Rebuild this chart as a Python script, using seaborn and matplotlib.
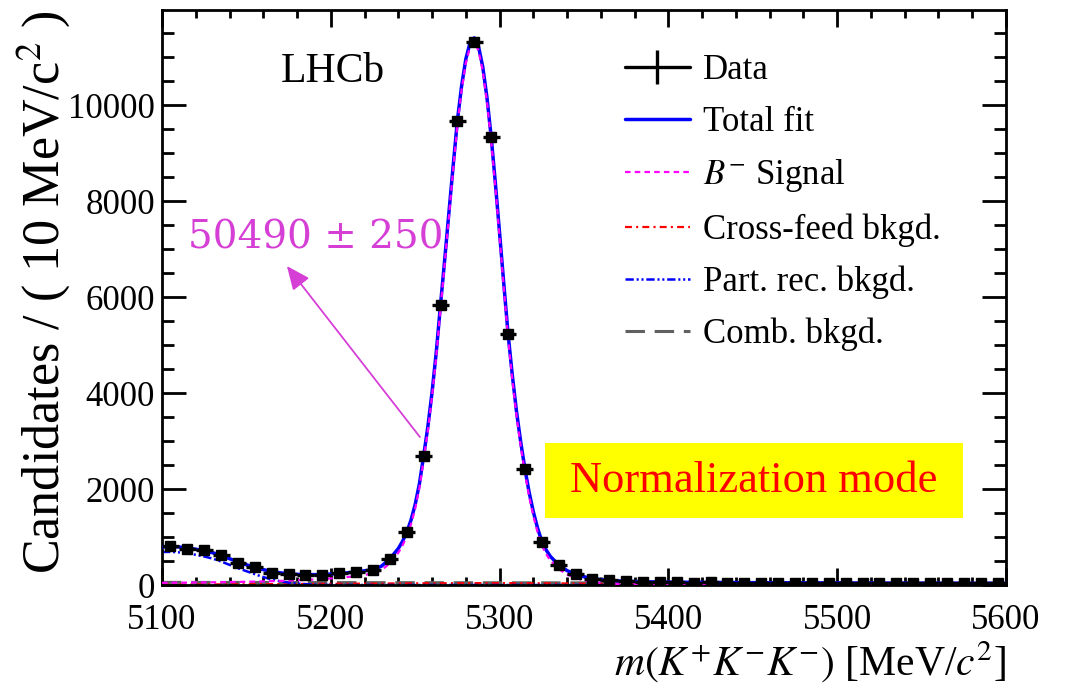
import numpy as np
import matplotlib
matplotlib.use("Agg")
import matplotlib.pyplot as plt
import seaborn as sns
from matplotlib.lines import Line2D
from matplotlib.patches import Rectangle
from matplotlib.ticker import MultipleLocator

# ---------------- data ----------------
bin_centers = np.arange(5105, 5600, 10)
counts = [805, 742, 722, 627, 466, 383, 257, 237, 215, 215,
          245, 276, 313, 550, 1105, 2680, 5830, 9670, 11310, 9330,
          5230, 2410, 905, 410, 228, 135, 100, 82, 70, 62,
          58, 52, 55, 48, 50, 46, 47, 44, 45, 42,
          40, 43, 38, 41, 37, 39, 35, 37, 34, 36]

# sample positions of the fit curves
fit_x = np.concatenate([np.arange(5100, 5241, 5), np.arange(5242.5, 5331, 2.5),
                        np.arange(5335, 5401, 5), np.arange(5410, 5601, 10)])

total_fit = [795, 800, 792, 772, 746, 714, 672, 614, 548, 482,
             422, 368, 320, 282, 254, 234, 222, 216, 216, 220,
             228, 240, 255, 274, 296, 322, 392, 545, 760,
             910, 1100, 1350, 1680, 2110, 2690, 3300, 4020, 4860, 5840,
             6790, 7770, 8740, 9680, 10400, 10960, 11300, 11400, 11220, 10800,
             10160, 9340, 8370, 7330, 6270, 5240, 4380, 3620, 2980, 2420,
             1930, 1524, 1185, 910, 734, 599,
             415, 299, 225, 172, 136, 112, 96, 85, 78, 72, 68, 65, 62, 60,
             57, 55, 53, 51, 49, 47, 46, 45, 44, 43,
             42, 41, 40, 39, 38.5, 38, 37, 36, 35.5, 35]

signal = [45, 46, 48, 50, 52, 54, 56, 58, 61, 64,
          67, 71, 75, 80, 85, 91, 98, 106, 115, 125,
          137, 150, 166, 185, 210, 242, 305, 455, 672,
          825, 1015, 1265, 1595, 2025, 2605, 3215, 3935, 4775, 5755,
          6705, 7685, 8655, 9595, 10315, 10875, 11215, 11315, 11135, 10715,
          10075, 9255, 8285, 7245, 6185, 5155, 4295, 3535, 2895, 2335,
          1845, 1440, 1100, 826, 650, 516,
          333, 219, 147, 96, 63, 42, 29, 21, 16, 12, 10, 8, 7, 6,
          5, 4, 3.5, 3, 2.5, 2, 2, 1.5, 1.5, 1,
          1, 1, 0.8, 0.8, 0.7, 0.6, 0.6, 0.5, 0.5, 0.5]

partrec_x = [5100, 5105, 5110, 5115, 5120, 5125, 5130, 5135, 5140, 5145,
             5150, 5155, 5160, 5165, 5170, 5175, 5180, 5185, 5190, 5195,
             5200, 5600]
partrec = [687, 690, 680, 658, 629, 594, 550, 490, 420, 351,
           288, 225, 165, 115, 78, 50, 30, 16, 8, 3,
           0, 0]

xfeed_x = [5100, 5150, 5200, 5250, 5300, 5350, 5400, 5450, 5500, 5550, 5600]
xfeed = [8, 15, 25, 35, 40, 30, 12, 4, 1, 0.3, 0]

comb_x = [5100, 5200, 5300, 5400, 5500, 5600]
comb = [55, 50, 46, 42, 38, 35]

legend_labels = ["Data", "Total fit", r"$B^{-}$ Signal", "Cross-feed bkgd.",
                 "Part. rec. bkgd.", "Comb. bkgd."]

# ---------------- style ----------------
sns.set_theme(style="ticks")
plt.rcParams.update({
    "font.family": ["Liberation Serif", "DejaVu Serif"],
    "mathtext.fontset": "stix",
    "lines.scale_dashes": False,
    "xtick.direction": "in", "ytick.direction": "in",
    "xtick.top": True, "ytick.right": True,
    "axes.linewidth": 2.0,
    "text.color": "black", "axes.labelcolor": "black",
    "xtick.color": "black", "ytick.color": "black",
    "axes.edgecolor": "black",
})

W, H = 1068, 691
fig = plt.figure(figsize=(W / 100, H / 100), dpi=100)
ax = fig.add_axes([162 / W, 1 - 585 / H, (1006 - 162) / W, (585 - 10) / H])

BLUE = "#0000ff"
MAG = "#ff00ff"
RED = "#ff0000"
GRAY = "#606060"

styles = {
    "comb": dict(color=GRAY, lw=2.2, ls=(0, (14, 7))),
    "xfeed": dict(color=RED, lw=1.6, ls=(0, (5, 3, 1.5, 3))),
    "partrec": dict(color=BLUE, lw=1.8, ls=(0, (6, 2, 1.5, 2, 1.5, 2))),
    "total": dict(color=BLUE, lw=2.5, ls="-"),
    "signal": dict(color=MAG, lw=1.6, ls=(0, (4, 3))),
}

def draw(x, y, key, z):
    st = styles[key]
    sns.lineplot(x=np.asarray(x, float), y=np.asarray(y, float), ax=ax, sort=False,
                 estimator=None, color=st["color"], linewidth=st["lw"], legend=False)
    ln = ax.lines[-1]
    ln.set_linestyle(st["ls"])
    ln.set_zorder(z)

draw(comb_x, comb, "comb", 2)
draw(xfeed_x, xfeed, "xfeed", 2.1)
draw(partrec_x, partrec, "partrec", 2.2)
draw(fit_x, total_fit, "total", 3)
draw(fit_x, signal, "signal", 3.1)

ax.errorbar(bin_centers, counts, xerr=5, yerr=np.sqrt(np.asarray(counts, float)),
            fmt="s", color="black", ms=6.5, lw=2.4, capsize=0, zorder=5)

ax.set_xlim(5100, 5600)
ax.set_ylim(0, 11980)
ax.xaxis.set_major_locator(MultipleLocator(100))
ax.xaxis.set_minor_locator(MultipleLocator(20))
ax.yaxis.set_major_locator(MultipleLocator(2000))
ax.yaxis.set_minor_locator(MultipleLocator(500))
ax.tick_params(axis="x", which="major", length=12, width=2, labelsize=25, pad=14)
ax.tick_params(axis="x", which="minor", length=6, width=2)
ax.tick_params(axis="y", which="major", length=17, width=2, labelsize=25, pad=5)
ax.tick_params(axis="y", which="minor", length=8.5, width=2)
for s in ax.spines.values():
    s.set_linewidth(2.0)

ax.set_ylabel(r"Candidates / ( 10 MeV/c$^{2}$ )", fontsize=37.5, loc="top")
ax.yaxis.set_label_coords(-0.105, 1.0)
ax.set_xlabel(r"$m(K^{+}K^{-}K^{-})$ [MeV/$c^{2}$]", fontsize=30, loc="right")
ax.xaxis.set_label_coords(1.0, -0.095)

# texts
ax.text(5201, 10700, "LHCb", fontsize=30, ha="center", va="center")
ANN = "#d63fd6"
ax.text(5115.4, 7020, "50490 ± 250", fontsize=28, color=ANN, family="DejaVu Serif",
        va="baseline", ha="left")
ax.annotate("", xy=(5174, 6646), xytext=(5252.8, 3083),
            arrowprops=dict(arrowstyle="-|>,head_length=0.8,head_width=0.35",
                            color=ANN, lw=1.3, mutation_scale=18, shrinkA=0, shrinkB=0))
ax.add_patch(Rectangle((5326.9, 1396), 247.6, 1562, facecolor="#ffff00",
                       edgecolor="none", zorder=1))
ax.text(5450.7, 2167, "Normalization mode", fontsize=32, color=RED,
        ha="center", va="center", zorder=2)

# legend
handles = [
    Line2D([], [], color="black", lw=2.4, marker="|", ms=24, mew=2.4),
    Line2D([], [], color=BLUE, lw=2.5),
    Line2D([], [], color=MAG, lw=1.6, ls=styles["signal"]["ls"]),
    Line2D([], [], color=RED, lw=1.6, ls=styles["xfeed"]["ls"]),
    Line2D([], [], color=BLUE, lw=1.8, ls=styles["partrec"]["ls"]),
    Line2D([], [], color=GRAY, lw=2.2, ls=styles["comb"]["ls"]),
]
fig.legend(handles, legend_labels, loc="upper left",
           bbox_to_anchor=(625 / W, 1 - 54 / H), frameon=False, fontsize=25,
           borderpad=0, borderaxespad=0, handlelength=1.87, handletextpad=0.37,
           labelspacing=0.54)

fig.savefig("out.png", dpi=100)
